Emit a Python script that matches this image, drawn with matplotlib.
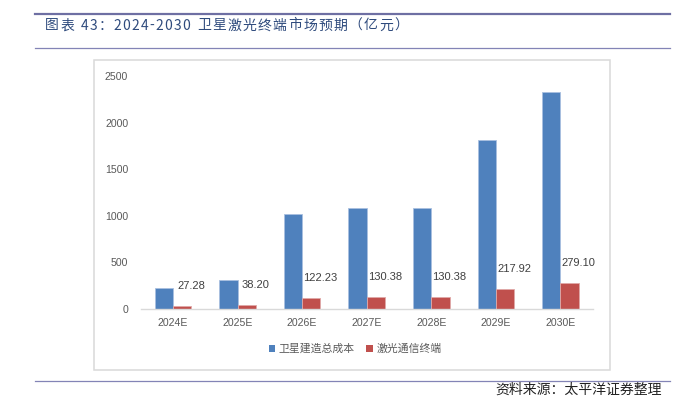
import matplotlib
matplotlib.use("Agg")
import matplotlib.pyplot as plt
import numpy as np
from matplotlib.patches import Rectangle, Patch
from matplotlib.lines import Line2D

plt.rcParams['font.family'] = ['Noto Sans CJK SC', 'DejaVu Sans']

categories = ["2024E", "2025E", "2026E", "2027E", "2028E", "2029E", "2030E"]
satellite_cost = [222, 315, 1016, 1080, 1080, 1810, 2325]
laser_terminal = [27.28, 38.20, 122.23, 130.38, 130.38, 217.92, 279.10]
series_names = ["卫星建造总成本", "激光通信终端"]
title_text = "图表 43：2024-2030 卫星激光终端市场预期（亿元）"
source_text = "资料来源：太平洋证券整理"
yticks = [0, 500, 1000, 1500, 2000, 2500]

BLUE = "#4F81BD"
RED = "#C0504D"
GRAY = "#595959"

W, H = 673, 398
fig = plt.figure(figsize=(W / 100, H / 100), dpi=100)

def fx(px):
    return px / W

def fy(py):
    return 1 - py / H

# decorative header / footer lines
fig.add_artist(Line2D([fx(35), fx(670)], [fy(13.5), fy(13.5)], color="#6E6FA3", lw=1.6))
fig.add_artist(Line2D([fx(35), fx(670)], [fy(48), fy(48)], color="#8384B6", lw=0.9))
fig.add_artist(Line2D([fx(35), fx(670)], [fy(380.5), fy(380.5)], color="#8384B6", lw=0.9))

# letter-spaced title spanning x=45..~402 px
renderer = fig.canvas.get_renderer()
title_kw = dict(fontsize=10, color="#2F4B7D", va="center", ha="left")
widths = []
for ch in title_text:
    if ch == " ":
        widths.append(4.0)
        continue
    t = fig.text(0, 0, ch, **title_kw)
    widths.append(t.get_window_extent(renderer).width)
    t.remove()
x0, x1 = 45.0, 408.0
gap = (x1 - x0 - sum(widths)) / (len(title_text) - 1)
cur = x0
for ch, w in zip(title_text, widths):
    if ch != " ":
        fig.text(fx(cur), fy(25.5), ch, **title_kw)
    cur += w + gap

fig.text(fx(662), fy(390), source_text, fontsize=10, color="#222222",
         ha="right", va="center")

# chart box
fig.add_artist(Rectangle((fx(94), fy(369.7)), fx(610) - fx(94), fy(59.7) - fy(369.7),
                         transform=fig.transFigure, fill=False,
                         edgecolor="#D9D9D9", lw=1.1))

ax = fig.add_axes([fx(140.7), fy(309), fx(592.7) - fx(140.7), fy(76) - fy(309)])
x = np.arange(len(categories))
bw = 0.283
ax.bar(x - bw / 2, satellite_cost, width=bw, color=BLUE, edgecolor="#A9C0E0", linewidth=0.6)
ax.bar(x + bw / 2, laser_terminal, width=bw, color=RED, edgecolor="#E0A9A8", linewidth=0.6)

for xi, v in zip(x, laser_terminal):
    ax.annotate(f"{v:.2f}", (xi + bw / 2, v), xytext=(9, 20), textcoords="offset pixels",
                ha="center", va="center", fontsize=8, color="#404040",
                family=["Liberation Sans", "DejaVu Sans"])

ax.set_xlim(-0.5, 6.5)
ax.set_ylim(0, 2500)
ax.set_yticks(yticks)
ax.set_yticklabels([str(t) for t in yticks], family=["Liberation Sans", "DejaVu Sans"])
ax.set_xticks(x)
ax.set_xticklabels(categories, family=["Liberation Sans", "DejaVu Sans"])
ax.tick_params(axis="both", length=0, labelsize=7.6, colors=GRAY)
ax.tick_params(axis="y", pad=9)
ax.tick_params(axis="x", pad=6.5)
for s in ["top", "right", "left"]:
    ax.spines[s].set_visible(False)
ax.spines["bottom"].set_color("#D9D9D9")
ax.spines["bottom"].set_linewidth(1.0)
ax.set_facecolor("none")

handles = [Patch(facecolor=BLUE, edgecolor="none"), Patch(facecolor=RED, edgecolor="none")]
leg = fig.legend(handles, series_names, loc="center", bbox_to_anchor=(fx(355), fy(349)),
                 ncol=2, frameon=False, fontsize=7.8, handlelength=0.6, handleheight=0.6,
                 handletextpad=0.3, columnspacing=1.1, labelcolor=GRAY)

fig.savefig("out.png", dpi=100)
